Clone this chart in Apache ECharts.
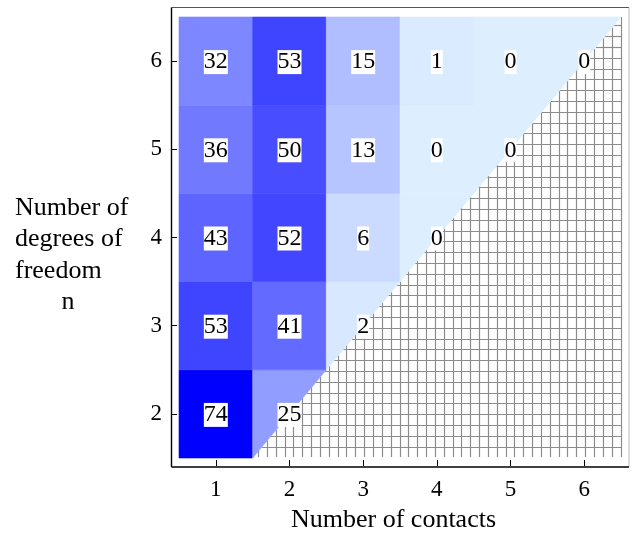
<!DOCTYPE html>
<html><head><meta charset="utf-8">
<script src="https://cdn.jsdelivr.net/npm/echarts@6/dist/echarts.min.js"></script>
<style>html,body{margin:0;padding:0;background:#fff}#c{width:634px;height:538px}</style>
</head><body><div id="c"></div>
<script>
// ---- data ----
const contacts = [1, 2, 3, 4, 5, 6];          // x categories (Number of contacts)
const dof = [2, 3, 4, 5, 6];                  // y categories (degrees of freedom n)
const counts_n2 = [74, 25];
const counts_n3 = [53, 41, 2];
const counts_n4 = [43, 52, 6, 0];
const counts_n5 = [36, 50, 13, 0, 0];
const counts_n6 = [32, 53, 15, 1, 0, 0];
const countsByDof = [counts_n2, counts_n3, counts_n4, counts_n5, counts_n6];
const xTitle = 'Number of contacts';
const yTitleLines = ['Number of', 'degrees of', 'freedom'];
const yTitleSymbol = 'n';

const cells = [];
dof.forEach((n, i) => countsByDof[i].forEach((v, j) => cells.push([contacts[j], n, v])));

// ---- style ----
const FONT = '"Liberation Serif", "Times New Roman", serif';
const G = { left: 179, top: 17, right: 13, bottom: 79 };
const AX_OFF = 8;
const HATCH_DX = 0.12, HATCH_DY = 0.1225;

function renderCell(params, api) {
  const x = api.value(0), y = api.value(1), v = api.value(2);
  let corners;
  if (x === y) corners = [[x - 0.5, y - 0.5], [x - 0.5, y + 0.5], [x + 0.5, y + 0.5]];
  else corners = [[x - 0.5, y - 0.5], [x - 0.5, y + 0.5], [x + 0.5, y + 0.5], [x + 0.5, y - 0.5]];
  const pts = corners.map(p => api.coord(p));
  const c = api.coord([x, y]);
  const col = api.visual('color');
  return {
    type: 'group', children: [
      { type: 'polygon', shape: { points: pts }, style: { fill: col, stroke: col, lineWidth: 0.6 } },
      { type: 'text', x: c[0], y: c[1] + 1, z2: 10,
        style: { text: String(v), fill: '#000', fontSize: 24, fontFamily: FONT, align: 'center',
                 verticalAlign: 'middle', backgroundColor: '#fff', padding: [1, 0, 0, 0], lineHeight: 23 } }
    ]
  };
}

function snap(v) { return Math.round(v - 0.5) + 0.5; }

function renderHatch(params, api) {
  const ch = [];
  const lo = 1.5, hi = 6.5;
  const ls = { stroke: '#8c8c8c', lineWidth: 1.2 };
  for (let k = 0; ; k++) {
    const x = hi - k * HATCH_DX;
    if (x <= lo + 0.01) break;
    const a = api.coord([x, lo]), b = api.coord([x, x]);
    const px = snap(a[0]);
    ch.push({ type: 'line', shape: { x1: px, y1: a[1] - 1, x2: px, y2: b[1] }, style: ls });
  }
  for (let k = 1; ; k++) {
    const y = lo + k * HATCH_DY;
    if (y >= hi - 0.01) break;
    const a = api.coord([y, y]), b = api.coord([hi, y]);
    const py = snap(a[1]);
    ch.push({ type: 'line', shape: { x1: a[0], y1: py, x2: b[0] + 1, y2: py }, style: ls });
  }
  return { type: 'group', children: ch };
}

const chart = echarts.init(document.getElementById('c'), null, { renderer: 'canvas' });
const W = 634, H = 538;
const frameL = G.left - AX_OFF + 0.5, frameR = W - G.right + AX_OFF, frameT = G.top - 10 + 0.5, frameB = H - G.bottom + AX_OFF;

chart.setOption({
  animation: false,
  backgroundColor: '#fff',
  grid: { left: G.left, top: G.top, right: G.right, bottom: G.bottom },
  visualMap: { show: false, type: 'continuous', min: 0, max: 74, dimension: 2, seriesIndex: 1,
               inRange: { color: ['#ddeeff', '#0000ff'] } },
  xAxis: {
    type: 'value', min: 0.5, max: 6.5, offset: AX_OFF,
    axisLine: { show: false },
    axisTick: { show: true, inside: true, length: 6, customValues: contacts, lineStyle: { color: '#000', width: 1 } },
    axisLabel: { customValues: contacts, color: '#000', fontFamily: FONT, fontSize: 23, margin: 12 },
    splitLine: { show: false },
    name: xTitle, nameLocation: 'middle', nameGap: 41,
    nameTextStyle: { color: '#000', fontFamily: FONT, fontSize: 26, padding: [0, 13, 0, 0] }
  },
  yAxis: {
    type: 'value', min: 1.5, max: 6.5, offset: AX_OFF,
    axisLine: { show: false },
    axisTick: { show: true, inside: true, length: 6, customValues: dof, lineStyle: { color: '#000', width: 1 } },
    axisLabel: { customValues: dof, color: '#000', fontFamily: FONT, fontSize: 23, margin: 9 },
    splitLine: { show: false }
  },
  graphic: [
    { type: 'line', z: 10, shape: { x1: frameL, y1: frameT, x2: frameR, y2: frameT }, style: { stroke: '#555', lineWidth: 1 } },
    { type: 'line', z: 10, shape: { x1: frameR, y1: frameT, x2: frameR, y2: frameB }, style: { stroke: '#bbb', lineWidth: 1 } },
    { type: 'line', z: 10, shape: { x1: frameL, y1: frameT, x2: frameL, y2: frameB }, style: { stroke: '#000', lineWidth: 1.4 } },
    { type: 'line', z: 10, shape: { x1: frameL, y1: frameB, x2: frameR, y2: frameB }, style: { stroke: '#000', lineWidth: 1.4 } },
    ...yTitleLines.map((t, i) => ({
      type: 'text', left: 15, top: 195 + i * 31.4,
      style: { text: t, fill: '#000', fontSize: 26, fontFamily: FONT }
    })),
    { type: 'text', x: 68, y: 302, style: { text: yTitleSymbol, fill: '#000', fontSize: 26, fontFamily: FONT, align: 'center', verticalAlign: 'middle' } }
  ],
  series: [
    { type: 'custom', renderItem: renderHatch, data: [[0]], silent: true, z: 1 },
    { type: 'custom', renderItem: renderCell, data: cells, encode: { x: 0, y: 1 }, z: 2 }
  ]
});
</script>
</body></html>
